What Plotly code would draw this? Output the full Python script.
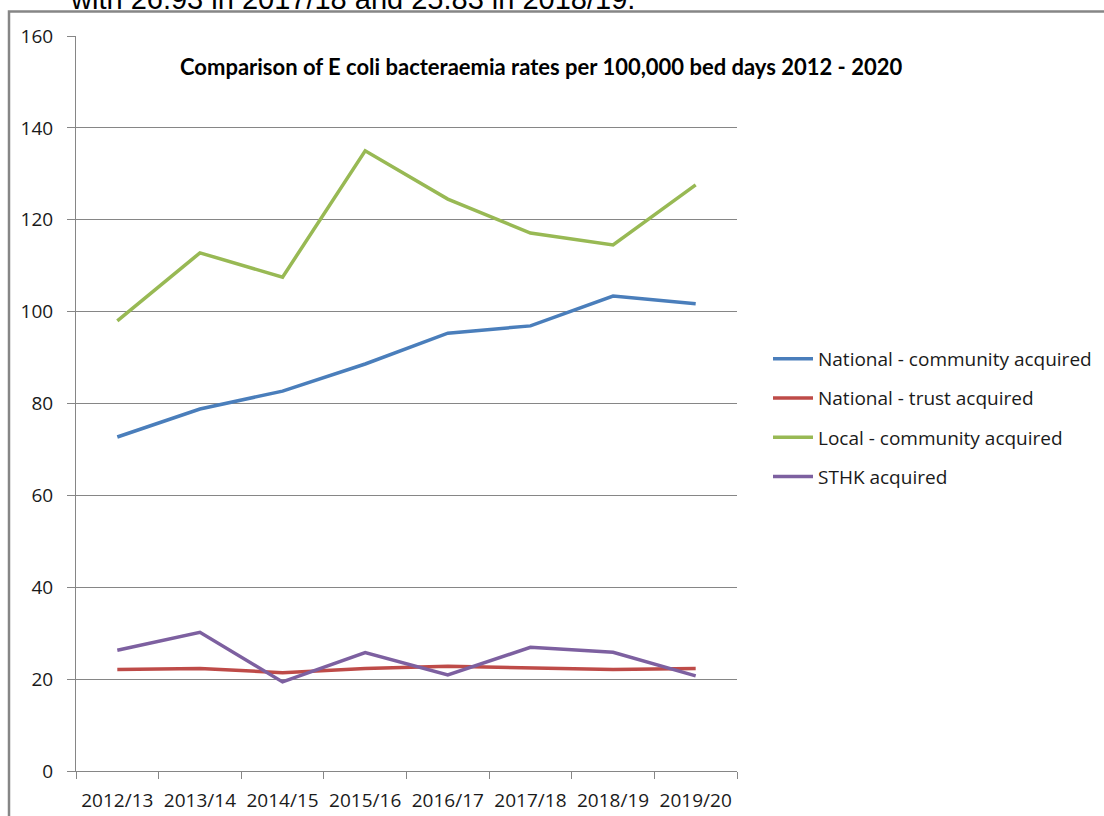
import plotly.graph_objects as go

# Financial years on the category axis
years = ["2012/13", "2013/14", "2014/15", "2015/16", "2016/17", "2017/18", "2018/19", "2019/20"]

# Rates per 100,000 bed days
national_community = [72.7, 78.8, 82.7, 88.6, 95.3, 96.9, 103.4, 101.7]
national_trust = [22.1, 22.3, 21.4, 22.3, 22.8, 22.4, 22.1, 22.3]
local_community = [98.0, 112.8, 107.5, 135.0, 124.5, 117.1, 114.5, 127.6]
sthk_acquired = [26.3, 30.2, 19.4, 25.8, 20.9, 26.93, 25.83, 20.7]

series = [
    ("National - community acquired", national_community, "#4a7ebb"),
    ("National - trust acquired", national_trust, "#be4b48"),
    ("Local - community acquired", local_community, "#98b954"),
    ("STHK acquired", sthk_acquired, "#7d60a0"),
]

fig = go.Figure()
for i, (name, vals, color) in enumerate(series):
    fig.add_trace(go.Scatter(
        x=years, y=vals, name=name, mode="lines",
        line=dict(color=color, width=3.5),
        legendgroup=f"g{i}",
    ))

# Plot area in pixels: x 76..737, y 36..771
L, R, T, B = 76, 737, 36, 771
W, H = 1104, 816
pw, ph = R - L, B - T

def px_x(p):
    return (p - L) / pw

def px_y(p):
    return (B - p) / ph

axis_font = dict(family="Open Sans", size=19, color="#1a1a1a")
grid_col = "#868686"

fig.update_layout(
    width=W, height=H,
    margin=dict(l=L, r=W - R, t=T, b=H - B, autoexpand=False),
    paper_bgcolor="white", plot_bgcolor="white",
    showlegend=True,
    legend=dict(
        xref="container", yref="container",
        x=768 / W, y=1 - 340 / H, xanchor="left", yanchor="top",
        font=dict(family="Open Sans", size=19, color="#1a1a1a"),
        tracegroupgap=11.5, bgcolor="rgba(0,0,0,0)",
        itemwidth=40,
    ),
    xaxis=dict(
        range=[-0.5, 7.5], showgrid=False, automargin=False,
        showline=True, linecolor=grid_col, linewidth=1,
        ticks="outside", ticklen=7, tickcolor=grid_col, tickson="boundaries",
        tickfont=axis_font, zeroline=False, fixedrange=True,
        ticklabelstandoff=12,
    ),
    yaxis=dict(
        range=[0, 160], dtick=20, showgrid=True, gridcolor=grid_col, gridwidth=1,
        showline=True, linecolor=grid_col, linewidth=1, automargin=False,
        ticks="outside", ticklen=8, tickcolor=grid_col,
        tickfont=axis_font, zeroline=False, ticklabelstandoff=10,
    ),
)

# Chart title inside the plot area
fig.add_annotation(
    text="<b>Comparison of E coli bacteraemia rates per 100,000 bed days 2012 - 2020</b>",
    xref="paper", yref="paper", x=px_x(541), y=px_y(66),
    xanchor="center", yanchor="middle", showarrow=False,
    font=dict(family="Lato", size=22, color="black"),
)

# Running text of the surrounding document, cut by the page edge
fig.add_annotation(
    text="with 26.93 in 2017/18 and 25.83 in 2018/19.",
    xref="paper", yref="paper", x=px_x(68), y=px_y(-1),
    xanchor="left", yanchor="middle", showarrow=False,
    font=dict(family="Liberation Sans", size=29, color="black"),
)

# Chart frame
fig.add_shape(
    type="rect", xref="paper", yref="paper",
    x0=px_x(9), x1=px_x(1130), y0=px_y(840), y1=px_y(11.5),
    line=dict(color="#868686", width=2.5), layer="below",
)

fig.write_html("out.html")
